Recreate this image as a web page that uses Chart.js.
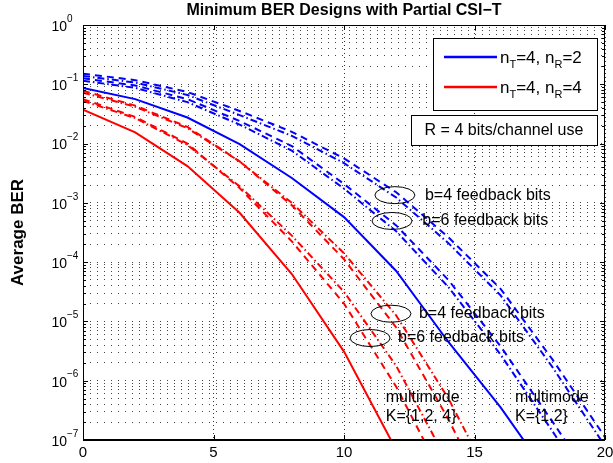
<!DOCTYPE html>
<html>
<head>
<meta charset="utf-8">
<script src="https://cdn.jsdelivr.net/npm/chart.js@4.4.0/dist/chart.umd.min.js"></script>
<style>
html, body { margin: 0; padding: 0; background: #fff; }
</style>
</head>
<body>
<canvas id="berChart" width="613" height="463"></canvas>
<script>
// SNR axis (dB), points every 2 dB
const snr = [0, 2, 4, 6, 8, 10, 12, 14, 16, 18, 20];

// nT=4, nR=2 (blue)
const blueB4a = [0.151, 0.1175, 0.0741, 0.0355, 0.0158, 5.62e-3, 1.51e-3, 2.63e-4, 3.55e-5, 2.24e-6, 1.12e-7];
const blueB4b = [0.138, 0.107, 0.066, 0.0302, 0.0135, 4.68e-3, 1.23e-3, 2.09e-4, 2.75e-5, 1.66e-6, 7.9e-8];
const blueB6a = [0.126, 0.0955, 0.0562, 0.024, 9.1e-3, 2.09e-3, 4.17e-4, 5.0e-5, 3.8e-6, 2.0e-7, 1e-8];
const blueB6b = [0.115, 0.087, 0.050, 0.0209, 7.6e-3, 1.74e-3, 3.31e-4, 3.8e-5, 2.75e-6, 1.38e-7, 6.3e-9];
const blueMulti = [0.087, 0.0562, 0.0275, 9.8e-3, 2.63e-3, 5.75e-4, 7.1e-5, 4.5e-6, 3.55e-7, 2.0e-8];

// nT=4, nR=4 (red)
const redB4a = [0.0776, 0.0437, 0.0191, 5.0e-3, 9.1e-4, 1.12e-4, 7.9e-6, 2.24e-7, 4.0e-9];
const redB4b = [0.0724, 0.0417, 0.0182, 5.0e-3, 1.0e-3, 1.41e-4, 1.26e-5, 5.0e-7, 1e-8];
const redB6a = [0.0562, 0.0282, 0.01, 1.78e-3, 2.24e-4, 2.0e-5, 7.9e-7, 1.58e-8];
const redB6b = [0.0525, 0.0269, 9.5e-3, 1.9e-3, 2.8e-4, 3.16e-5, 1.78e-6, 4.0e-8];
const redMulti = [0.0372, 0.0155, 4.17e-3, 6.8e-4, 6.3e-5, 3.1e-6, 6.8e-8];

// y axis decades
const decades = [0, -1, -2, -3, -4, -5, -6, -7];
const xTicks = [0, 5, 10, 15, 20];

// annotations (data coordinates)
const ellipses = [
    { x: 11.95, y: 1.35e-3 },
    { x: 11.84, y: 4.95e-4 },
    { x: 11.8, y: 1.35e-5 },
    { x: 11.0, y: 5.25e-6 }
];
const notes = [
    { text: 'b=4 feedback bits', x: 13.1, y: 1.35e-3 },
    { text: 'b=6 feedback bits', x: 13.0, y: 4.95e-4 },
    { text: 'b=4 feedback bits', x: 12.87, y: 1.35e-5 },
    { text: 'b=6 feedback bits', x: 12.07, y: 5.25e-6 },
    { text: 'multimode', x: 11.6, y: 5.1e-7 },
    { text: 'K={1,2, 4}', x: 11.6, y: 2.45e-7 },
    { text: 'multimode', x: 16.55, y: 5.1e-7 },
    { text: 'K={1,2}', x: 16.55, y: 2.45e-7 }
];

const FONT = '"Liberation Sans", Arial, Helvetica, sans-serif';
const DASH = [7, 5];
const DASHDOT = [7, 3, 1.5, 3];

function pts(vals) {
    return vals.map((v, i) => ({ x: snr[i], y: v }));
}

function line(vals, color, dash) {
    return {
        data: pts(vals),
        borderColor: color,
        borderWidth: 2,
        borderDash: dash,
        pointRadius: 0,
        tension: 0,
        fill: false
    };
}

const yTickValues = [];
decades.forEach(k => {
    for (let m = 1; m <= 9; m++) {
        const v = m * Math.pow(10, k);
        if (v <= 1.0000001) yTickValues.push(v);
    }
});

function subText(ctx, parts, x, y) {
    // parts: [text, isSub]
    parts.forEach(([t, sub]) => {
        ctx.font = sub ? '11px ' + FONT : '17px ' + FONT;
        ctx.fillText(t, x, sub ? y + 5 : y);
        x += ctx.measureText(t).width;
    });
}

const decor = {
    id: 'decor',
    afterDraw(chart) {
        const { ctx, chartArea: a, scales } = chart;
        const xs = scales.x, ys = scales.y;
        ctx.save();
        ctx.fillStyle = '#000';
        ctx.strokeStyle = '#000';

        // frame
        ctx.lineWidth = 1;
        ctx.strokeRect(a.left + 0.5, a.top + 0.5, a.right - a.left - 1, a.bottom - a.top);
        ctx.lineWidth = 2;
        ctx.beginPath();
        ctx.moveTo(a.left, a.bottom);
        ctx.lineTo(a.right, a.bottom);
        ctx.stroke();

        // inward ticks
        ctx.lineWidth = 1;
        ctx.beginPath();
        yTickValues.forEach(v => {
            const py = Math.round(ys.getPixelForValue(v)) + 0.5;
            const len = Math.abs(Math.log10(v) - Math.round(Math.log10(v))) < 1e-6 ? 5 : 3;
            ctx.moveTo(a.left, py); ctx.lineTo(a.left + len, py);
            ctx.moveTo(a.right, py); ctx.lineTo(a.right - len, py);
        });
        xTicks.forEach(v => {
            const px = Math.round(xs.getPixelForValue(v)) + 0.5;
            ctx.moveTo(px, a.bottom); ctx.lineTo(px, a.bottom - 5);
            ctx.moveTo(px, a.top); ctx.lineTo(px, a.top + 5);
        });
        ctx.stroke();

        // y tick labels 10^k
        ctx.textBaseline = 'middle';
        decades.forEach(k => {
            const py = ys.getPixelForValue(Math.pow(10, k));
            ctx.font = '14px ' + FONT;
            ctx.textAlign = 'right';
            ctx.fillText('10', a.left - 16, py + 2);
            ctx.font = '10px ' + FONT;
            ctx.textAlign = 'left';
            ctx.fillText(k === 0 ? '0' : '\u2212' + (-k), a.left - 16, py - 6);
        });

        // title and y axis title
        ctx.textAlign = 'center';
        ctx.font = 'bold 16px ' + FONT;
        ctx.fillText('Minimum BER Designs with Partial CSI\u2212T', (a.left + a.right) / 2, 11);
        ctx.save();
        ctx.translate(18, (a.top + a.bottom) / 2);
        ctx.rotate(-Math.PI / 2);
        ctx.font = 'bold 17px ' + FONT;
        ctx.fillText('Average BER', 0, 0);
        ctx.restore();

        // ellipses and notes
        ctx.lineWidth = 1;
        ellipses.forEach(e => {
            ctx.beginPath();
            ctx.ellipse(xs.getPixelForValue(e.x), ys.getPixelForValue(e.y), 20, 8.5, 0, 0, Math.PI * 2);
            ctx.stroke();
        });
        ctx.textAlign = 'left';
        ctx.font = '16px ' + FONT;
        notes.forEach(n => {
            ctx.fillText(n.text, xs.getPixelForValue(n.x), ys.getPixelForValue(n.y));
        });

        // legend box
        ctx.fillStyle = '#fff';
        ctx.fillRect(433, 38, 164, 72);
        ctx.strokeRect(433.5, 38.5, 164, 72);
        ctx.lineWidth = 2.5;
        ctx.strokeStyle = '#0000ff';
        ctx.beginPath(); ctx.moveTo(444, 57); ctx.lineTo(497, 57); ctx.stroke();
        ctx.strokeStyle = '#ff0000';
        ctx.beginPath(); ctx.moveTo(444, 87); ctx.lineTo(497, 87); ctx.stroke();
        ctx.fillStyle = '#000';
        ctx.textBaseline = 'alphabetic';
        subText(ctx, [['n', false], ['T', true], ['=4, n', false], ['R', true], ['=2', false]], 500, 63);
        subText(ctx, [['n', false], ['T', true], ['=4, n', false], ['R', true], ['=4', false]], 500, 93);

        // rate box
        ctx.strokeStyle = '#000';
        ctx.lineWidth = 1;
        ctx.fillStyle = '#fff';
        ctx.fillRect(411, 115, 186, 30);
        ctx.strokeRect(411.5, 115.5, 186, 30);
        ctx.fillStyle = '#000';
        ctx.textAlign = 'center';
        ctx.textBaseline = 'middle';
        ctx.font = '16px ' + FONT;
        ctx.fillText('R = 4 bits/channel use', 504, 131);

        ctx.restore();
    }
};

new Chart(document.getElementById('berChart'), {
    type: 'line',
    data: {
        datasets: [
            line(blueB4a, '#0000ff', DASH),
            line(blueB4b, '#0000ff', DASHDOT),
            line(blueB6a, '#0000ff', DASH),
            line(blueB6b, '#0000ff', DASHDOT),
            line(blueMulti, '#0000ff', []),
            line(redB4a, '#ff0000', DASH),
            line(redB4b, '#ff0000', DASHDOT),
            line(redB6a, '#ff0000', DASH),
            line(redB6b, '#ff0000', DASHDOT),
            line(redMulti, '#ff0000', [])
        ]
    },
    options: {
        responsive: false,
        animation: false,
        devicePixelRatio: 1,
        layout: { padding: { top: 25, right: 8, left: 0, bottom: 0 } },
        plugins: { legend: { display: false }, title: { display: false }, tooltip: { enabled: false } },
        scales: {
            x: {
                type: 'linear',
                min: 0,
                max: 20,
                afterFit: s => { s.height = 23; s.paddingLeft = 0; s.paddingRight = 0; },
                afterBuildTicks: s => { s.ticks = xTicks.map(v => ({ value: v })); },
                ticks: { color: '#000', font: { size: 15, family: FONT }, padding: 4, maxRotation: 0 },
                grid: { color: '#333', drawTicks: false },
                border: { display: false, dash: [1, 3] }
            },
            y: {
                type: 'logarithmic',
                min: 1e-7,
                max: 1,
                afterFit: s => { s.width = 83; s.paddingTop = 0; s.paddingBottom = 0; },
                afterBuildTicks: s => { s.ticks = yTickValues.map(v => ({ value: v })); },
                ticks: { display: false },
                grid: { color: '#444', drawTicks: false },
                border: { display: false, dash: [1, 6] }
            }
        }
    },
    plugins: [decor]
});
</script>
</body>
</html>
